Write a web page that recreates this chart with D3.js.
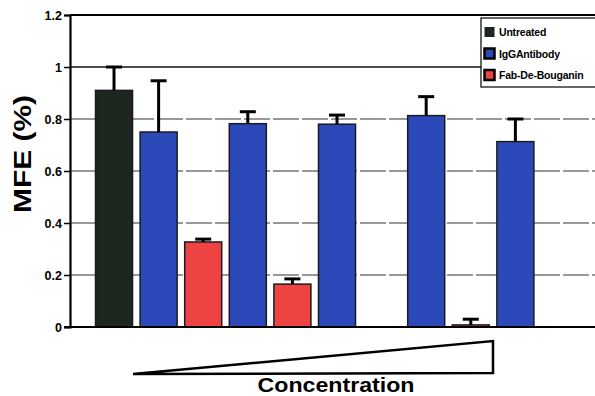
<!DOCTYPE html>
<html>
<head>
<meta charset="utf-8">
<script src="https://cdn.jsdelivr.net/npm/d3@7"></script>
<style>
  html, body { margin: 0; padding: 0; background: #fff; }
  svg { display: block; }
  text { font-family: "Liberation Sans", Arial, sans-serif; font-weight: bold; }
</style>
</head>
<body>
<svg id="chart" width="595" height="396"></svg>
<script>
// ---- data ----
const categories = ["Untreated", "IgG c1", "Fab c1", "IgG c2", "Fab c2", "IgG c3", "Fab c3", "IgG c4", "Fab c4", "IgG c5"];
const groups = ["Untreated", "IgGAntibody", "Fab-De-Bouganin", "IgGAntibody", "Fab-De-Bouganin", "IgGAntibody", "Fab-De-Bouganin", "IgGAntibody", "Fab-De-Bouganin", "IgGAntibody"];
const values = [0.91, 0.75, 0.327, 0.782, 0.165, 0.78, null, 0.813, 0.008, 0.713];
const errors = [0.09, 0.197, 0.011, 0.046, 0.02, 0.035, null, 0.073, 0.022, 0.087];
const legendLabels = ["Untreated", "IgGAntibody", "Fab-De-Bouganin"];
const yTicks = [0, 0.2, 0.4, 0.6, 0.8, 1, 1.2];
const yTickLabels = ["0", "0.2", "0.4", "0.6", "0.8", "1", "1.2"];

const colors = { "Untreated": "#1d271f", "IgGAntibody": "#2b49b8", "Fab-De-Bouganin": "#ee4343" };

(function () {
const svg = d3.select("#chart");
const pLeft = 70, pRight = 595, pTop = 15, pBottom = 327;

const y = d3.scaleLinear().domain([0, 1.2]).range([pBottom, pTop]);
const x = d3.scaleBand().domain(categories).range([pLeft, 559.4])
  .paddingInner(0.17).paddingOuter(0.572);

// gridlines
svg.append("g").selectAll("line")
  .data(yTicks.filter(t => t > 0 && t < 1.2))
  .join("line")
  .attr("x1", pLeft).attr("x2", pRight)
  .attr("y1", d => y(d)).attr("y2", d => y(d))
  .attr("stroke", d => d === 1 ? "#111" : "#333")
  .attr("stroke-width", d => d === 1 ? 1.4 : 1.1)
  .attr("stroke-dasharray", d => d === 1 ? null : "26,3");

// top frame line
svg.append("line").attr("x1", pLeft).attr("x2", pRight)
  .attr("y1", y(1.2)).attr("y2", y(1.2))
  .attr("stroke", "#000").attr("stroke-width", 2);

// bars
const data = categories.map((c, i) => ({ c, g: groups[i], v: values[i], e: errors[i] }))
  .filter(d => d.v !== null);

svg.append("g").selectAll("rect")
  .data(data).join("rect")
  .attr("x", d => x(d.c))
  .attr("width", x.bandwidth())
  .attr("y", d => y(d.v))
  .attr("height", d => y(0) - y(d.v))
  .attr("fill", d => colors[d.g])
  .attr("stroke", "#1a1a22")
  .attr("stroke-width", 1.5);

// error bars
const eb = svg.append("g").attr("stroke", "#000").attr("stroke-width", 3);
data.forEach(d => {
  const cx = x(d.c) + x.bandwidth() / 2;
  eb.append("line").attr("x1", cx).attr("x2", cx)
    .attr("y1", y(d.v)).attr("y2", y(d.v + d.e));
  eb.append("line").attr("x1", cx - 8).attr("x2", cx + 8)
    .attr("y1", y(d.v + d.e)).attr("y2", y(d.v + d.e));
});

// y axis
const yAxis = d3.axisLeft(y).tickValues(yTicks)
  .tickFormat((d, i) => yTickLabels[i]).tickSize(6).tickPadding(2);
const ga = svg.append("g").attr("transform", `translate(${pLeft},0)`).call(yAxis);
ga.select(".domain").attr("stroke", "#000").attr("stroke-width", 2.2);
ga.selectAll(".tick line").attr("stroke", "#000").attr("stroke-width", 1.5);
ga.selectAll(".tick text").attr("font-size", 12.5).attr("font-weight", "bold")
  .attr("font-family", "Liberation Sans, Arial, sans-serif").attr("fill", "#000");

// x baseline
svg.append("line").attr("x1", pLeft - 6).attr("x2", pRight)
  .attr("y1", y(0)).attr("y2", y(0))
  .attr("stroke", "#000").attr("stroke-width", 2.2);

// y label
svg.append("text")
  .attr("transform", "translate(31,154) rotate(-90)")
  .attr("text-anchor", "middle")
  .attr("font-size", 23)
  .attr("textLength", 118).attr("lengthAdjust", "spacingAndGlyphs")
  .text("MFE (%)");

// concentration triangle
svg.append("path")
  .attr("d", d3.line()([[133, 374], [493, 341], [493, 373], [133, 374]]))
  .attr("fill", "#fff").attr("stroke", "#000").attr("stroke-width", 2.5)
  .attr("stroke-linejoin", "miter");

svg.append("text")
  .attr("x", 336).attr("y", 392)
  .attr("text-anchor", "middle")
  .attr("font-size", 21)
  .attr("textLength", 157).attr("lengthAdjust", "spacingAndGlyphs")
  .text("Concentration");

// legend
const lg = svg.append("g");
lg.append("rect").attr("x", 481).attr("y", 18).attr("width", 120).attr("height", 69)
  .attr("fill", "#fff").attr("stroke", "#000").attr("stroke-width", 1.2);
legendLabels.forEach((l, i) => {
  const cy = 32 + i * 21.5;
  lg.append("rect").attr("x", 484.5).attr("y", cy - 5).attr("width", 10).attr("height", 10)
    .attr("fill", colors[l]).attr("stroke", "#000").attr("stroke-width", l === "Untreated" ? 0 : 2.5);
  lg.append("text").attr("x", 499).attr("y", cy + 4)
    .attr("font-size", 10.5).attr("letter-spacing", -0.2).text(l);
});
})();
</script>
</body>
</html>
